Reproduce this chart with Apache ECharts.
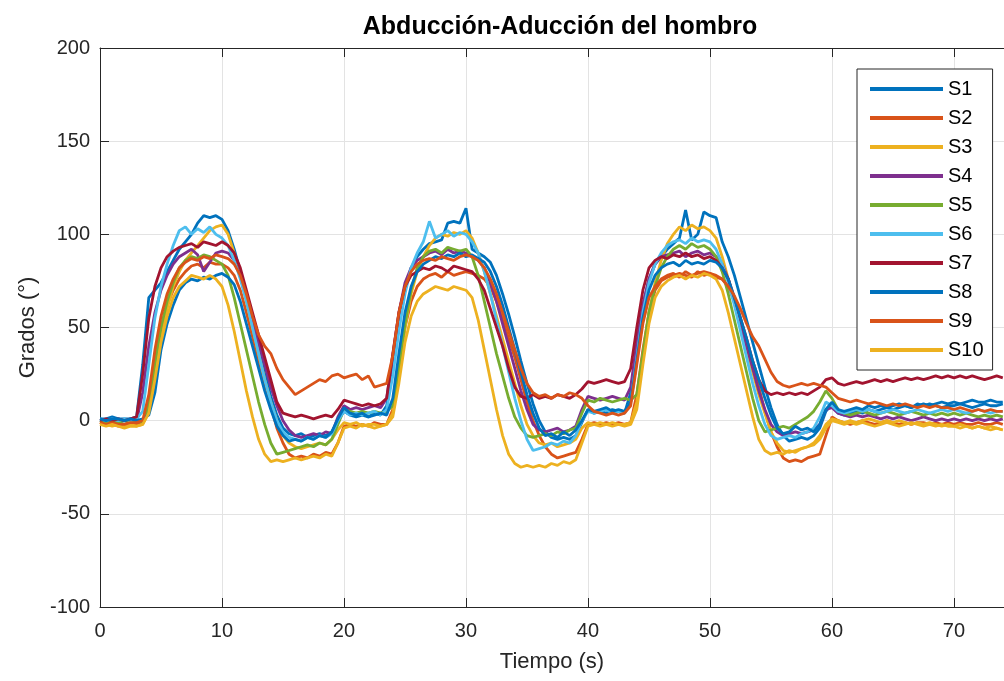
<!DOCTYPE html>
<html>
<head>
<meta charset="utf-8">
<title>Abducción-Aducción del hombro</title>
<script src="https://cdn.jsdelivr.net/npm/echarts@6/dist/echarts.min.js"></script>
<style>
  html, body { margin: 0; padding: 0; background: #ffffff; }
  #chart { width: 1004px; height: 681px; }
</style>
</head>
<body>
<div id="chart"></div>
<script>
// Shoulder abduction/adduction angle (degrees) for ten subjects, sampled every 0.5 s from 0 to 74 s.
const sampleStep = 0.5;
const seriesNames = ['S1', 'S2', 'S3', 'S4', 'S5', 'S6', 'S7', 'S8', 'S9', 'S10'];

const s1 = [
  1,1,2,1,1,1,2,30,66,70,74,80,86,92,96,100,106,110,109,110,
  108,102,92,80,67,54,40,26,13,3,-4,-7,-8,-7,-9,-8,-7,-8,-6,0,
  5,3,2,3,2,4,3,8,28,52,70,82,88,92,95,96,97,106,107,106,
  114,92,90,88,85,78,68,57,45,32,20,9,0,-6,-9,-10,-9,-10,-8,-1,
  6,4,5,4,6,5,4,15,40,62,76,84,88,92,95,98,113,97,100,112,
  110,109,96,88,78,66,54,42,30,18,7,-2,-8,-11,-10,-9,-10,-8,-4,5,
  9,4,3,4,5,4,6,5,6,7,6,7,8,7,8,9,8,9,10,9,
  10,9,10,11,10,10,11,10,10
];
const s2 = [
  -1,-2,-2,-3,-2,-2,-2,-1,10,32,50,62,70,76,80,83,84,82,85,84,
  84,82,78,70,58,45,32,20,8,-4,-12,-18,-20,-19,-20,-18,-19,-17,-18,-12,
  -3,-2,-3,-2,-3,-1,-2,-2,6,28,50,64,72,76,78,79,77,80,78,79,
  80,79,78,76,72,64,54,44,34,22,10,0,-8,-14,-18,-20,-19,-18,-17,-10,
  -2,-1,-2,-1,-2,-1,-2,-1,14,38,58,70,75,77,78,79,78,77,80,78,
  79,77,76,72,64,54,42,30,18,5,-6,-14,-20,-22,-21,-22,-20,-19,-18,-8,
  2,0,-1,-2,-1,0,-1,-2,-1,0,-1,-2,-1,-2,-1,-1,-2,-1,-2,-1,
  -2,-1,-2,-2,-1,-2,-2,-1,-2
];
const s3 = [
  -1,-2,-3,-2,-3,-2,-3,-2,5,25,45,60,72,80,86,90,94,98,102,104,
  105,100,90,78,64,50,36,22,10,0,-8,-12,-14,-15,-14,-13,-12,-13,-10,-5,
  -1,-2,-1,-3,-2,-2,-3,-2,4,26,50,68,80,88,94,98,100,99,101,100,
  102,98,90,80,68,56,44,32,20,8,-2,-8,-12,-13,-12,-14,-13,-12,-10,-4,
  -1,-2,-1,-2,-1,-2,-2,-1,10,35,58,74,86,95,100,104,102,105,103,104,
  102,98,88,76,64,50,38,26,14,4,-6,-12,-16,-17,-16,-15,-14,-12,-8,-2,
  1,0,-1,0,-1,0,1,0,-1,0,-1,0,-1,-2,-1,-2,-1,-2,-3,-2,
  -3,-2,-3,-4,-3,-4,-3,-4,-5
];
const s4 = [
  0,-1,0,-1,0,-1,0,15,40,58,70,78,84,88,90,92,89,80,85,90,
  91,90,86,78,66,54,42,30,18,8,0,-5,-8,-9,-8,-7,-8,-6,-7,2,
  8,6,7,6,7,8,7,12,35,58,74,82,86,88,90,91,89,92,90,91,
  90,88,86,82,74,64,52,40,28,16,6,-2,-5,-6,-5,-4,-6,-5,-3,6,
  13,12,11,12,13,12,11,18,42,62,76,84,88,89,90,91,88,90,91,89,
  90,88,84,76,64,52,40,28,16,6,-2,-6,-8,-7,-6,-7,-6,-5,-2,6,
  7,4,3,2,3,2,3,2,1,2,1,2,1,0,1,2,1,0,1,0,
  1,0,1,0,1,0,1,0,1
];
const s5 = [
  0,-1,0,-1,0,-1,0,-1,8,30,50,64,74,82,86,88,87,89,88,86,
  84,78,66,52,38,24,10,-2,-12,-18,-17,-16,-15,-14,-13,-14,-12,-13,-10,-2,
  6,5,4,5,4,5,4,5,8,28,52,70,82,88,91,92,90,93,92,91,
  92,88,78,64,50,36,24,12,2,-4,-8,-9,-8,-7,-8,-6,-7,-5,-4,4,
  11,10,12,11,10,11,12,11,14,36,58,72,82,88,92,94,92,95,93,94,
  92,88,80,68,54,40,26,12,0,-6,-5,-4,-3,-4,-2,0,2,5,10,16,
  12,6,4,3,4,5,4,3,4,5,4,3,4,5,4,3,4,3,4,3,
  4,3,4,3,2,3,2,3,2
];
const s6 = [
  1,0,1,0,1,0,1,5,30,55,72,84,94,102,104,100,103,101,104,100,
  98,94,86,76,64,50,36,22,10,0,-6,-9,-10,-11,-9,-10,-8,-9,-7,0,
  5,3,4,3,4,5,3,6,24,48,68,82,90,96,107,98,100,102,99,101,
  100,96,90,80,68,54,40,26,12,0,-10,-16,-15,-14,-12,-13,-11,-12,-8,0,
  5,4,5,6,4,5,4,10,34,58,74,84,90,94,96,97,95,98,96,97,
  96,92,84,74,62,48,34,20,8,-2,-8,-10,-9,-8,-9,-7,-6,-4,2,10,
  8,5,4,5,6,5,6,5,4,5,6,5,4,5,6,5,4,5,6,5,
  6,5,4,5,6,5,4,5,5
];
const s7 = [
  0,1,0,1,0,1,2,25,55,72,82,88,91,93,94,95,93,96,95,94,
  96,94,90,82,70,58,46,34,22,10,4,3,2,3,2,1,2,3,2,6,
  11,10,9,8,9,8,9,12,36,58,72,78,80,82,81,83,82,80,83,82,
  81,80,76,70,60,50,40,28,18,13,12,14,12,13,12,14,13,12,14,17,
  21,20,21,22,21,20,21,28,50,70,82,86,88,87,89,88,90,88,89,87,
  88,86,82,76,66,55,44,32,22,16,14,15,14,15,14,15,14,16,18,22,
  23,20,19,20,21,20,21,22,21,22,21,22,23,22,23,22,23,24,23,24,
  23,24,23,24,23,22,23,24,23
];
const s8 = [
  1,0,1,1,0,1,0,1,3,15,38,52,62,70,74,76,75,77,76,78,
  79,77,73,64,52,40,28,16,6,-3,-8,-11,-10,-11,-9,-10,-8,-9,-6,1,
  7,4,3,4,2,3,4,3,12,36,58,72,80,84,86,88,87,89,88,90,
  88,89,87,85,80,72,62,50,38,26,14,4,-4,-8,-7,-9,-6,-8,-5,0,
  6,5,6,7,5,6,5,10,32,55,70,78,82,84,85,83,86,84,85,84,
  86,85,82,76,66,55,44,32,22,12,3,-4,-7,-6,-3,-5,-4,-6,-2,6,
  10,6,5,6,7,6,8,7,8,7,8,9,8,7,9,8,9,8,7,8,
  8,9,8,7,8,9,8,8,9
];
const s9 = [
  -1,-2,-1,-2,-2,-1,-1,0,14,38,56,68,76,82,85,87,86,88,87,89,
  88,87,84,78,68,56,46,40,36,28,22,18,14,16,18,20,22,21,24,25,
  23,24,25,22,24,18,19,20,35,58,72,80,84,86,87,86,88,87,86,88,
  89,88,86,82,76,68,58,48,38,28,20,15,13,14,12,14,13,15,14,12,
  8,5,4,3,4,3,4,8,30,52,66,72,76,78,79,77,80,78,79,80,
  79,78,76,72,67,60,52,45,40,33,26,21,19,18,19,20,19,20,19,18,
  15,12,11,10,11,10,9,10,9,8,9,8,9,8,7,8,7,8,7,7,
  6,7,6,5,6,5,6,5,5
];
const s10 = [
  -2,-3,-2,-3,-4,-3,-3,-2,4,22,42,56,66,72,75,78,77,76,78,76,
  72,62,48,32,16,2,-10,-18,-22,-21,-22,-21,-20,-21,-20,-19,-20,-18,-19,-12,
  -4,-3,-4,-2,-3,-4,-3,-2,2,20,42,56,64,68,70,72,71,70,72,71,
  70,66,54,38,22,6,-8,-18,-23,-25,-24,-25,-24,-25,-23,-24,-22,-23,-21,-12,
  -3,-2,-3,-2,-3,-2,-3,-2,6,30,52,66,72,75,77,78,76,78,77,79,
  78,76,70,58,44,30,16,2,-10,-16,-18,-17,-18,-16,-17,-15,-14,-13,-10,-4,
  0,-1,-2,-1,-2,-1,-2,-3,-2,-1,-2,-3,-2,-1,-2,-3,-2,-3,-2,-3,
  -3,-4,-3,-4,-3,-4,-5,-4,-5
];

const seriesValues = [s1, s2, s3, s4, s5, s6, s7, s8, s9, s10];

// MATLAB default line colour order (repeats after seven lines)
const palette = ['#0072BD', '#D95319', '#EDB120', '#7E2F8E', '#77AC30',
                 '#4DBEEE', '#A2142F', '#0072BD', '#D95319', '#EDB120'];

const FONT = '"Liberation Sans", Arial, Helvetica, sans-serif';
const AXIS_COLOR = '#262626';
const GRID_COLOR = '#e3e3e3';

const chart = echarts.init(document.getElementById('chart'), null, { renderer: 'canvas' });

const series = seriesNames.map((name, k) => ({
  name: name,
  type: 'line',
  xAxisIndex: 0,
  yAxisIndex: 0,
  showSymbol: false,
  symbol: 'none',
  smooth: false,
  clip: true,
  color: palette[k],
  lineStyle: { width: 2.8, color: palette[k] },
  emphasis: { disabled: true },
  data: seriesValues[k].map((v, i) => [i * sampleStep, v])
}));

const option = {
  animation: false,
  backgroundColor: '#ffffff',
  textStyle: { fontFamily: FONT },
  grid: { left: 100, top: 48, right: 0, bottom: 74, containLabel: false },
  graphic: [{
    type: 'text',
    x: 560,
    y: 27,
    style: {
      text: 'Abducción-Aducción del hombro',
      font: 'bold 25px ' + FONT,
      fill: '#000000',
      textAlign: 'center',
      textVerticalAlign: 'middle'
    }
  }],
  legend: {
    data: seriesNames,
    orient: 'vertical',
    left: 857,
    top: 69,
    icon: 'rect',
    itemWidth: 73,
    itemHeight: 4,
    itemGap: 9,
    padding: [10, 9, 10, 13],
    backgroundColor: '#ffffff',
    borderColor: AXIS_COLOR,
    borderWidth: 1,
    borderRadius: 0,
    selectedMode: false,
    textStyle: { fontSize: 20, color: '#000000', lineHeight: 20, fontFamily: FONT }
  },
  xAxis: [{
    type: 'value',
    min: 0,
    max: 74.1,
    interval: 10,
    position: 'bottom',
    name: 'Tiempo (s)',
    nameLocation: 'middle',
    nameGap: 44,
    nameTextStyle: { fontSize: 22, color: AXIS_COLOR },
    axisLine: { show: true, onZero: false, lineStyle: { color: AXIS_COLOR, width: 1 } },
    axisTick: { show: true, inside: true, length: 9, lineStyle: { color: AXIS_COLOR } },
    axisLabel: { fontSize: 20, color: AXIS_COLOR, margin: 14, showMaxLabel: false },
    splitLine: { show: true, lineStyle: { color: GRID_COLOR, width: 1 } }
  }, {
    type: 'value',
    min: 0,
    max: 74.1,
    interval: 10,
    position: 'top',
    axisLine: { show: true, onZero: false, lineStyle: { color: AXIS_COLOR, width: 1 } },
    axisTick: { show: true, inside: true, length: 9, lineStyle: { color: AXIS_COLOR } },
    axisLabel: { show: false },
    splitLine: { show: false }
  }],
  yAxis: [{
    type: 'value',
    min: -100,
    max: 200,
    interval: 50,
    name: 'Grados (°)',
    nameLocation: 'middle',
    nameGap: 61,
    nameRotate: 90,
    nameTextStyle: { fontSize: 22, color: AXIS_COLOR },
    axisLine: { show: true, onZero: false, lineStyle: { color: AXIS_COLOR, width: 1 } },
    axisTick: { show: true, inside: true, length: 9, lineStyle: { color: AXIS_COLOR } },
    axisLabel: { fontSize: 20, color: AXIS_COLOR, margin: 10 },
    splitLine: { show: true, lineStyle: { color: GRID_COLOR, width: 1 } }
  }],
  series: series
};

chart.setOption(option);
</script>
</body>
</html>
